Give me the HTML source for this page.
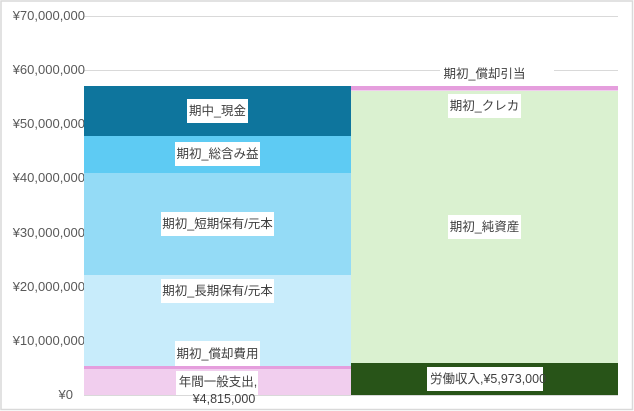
<!DOCTYPE html>
<html><head><meta charset="utf-8"><style>
html,body{margin:0;padding:0;background:#fff}
svg{display:block}
text{font-family:"Liberation Sans","Noto Sans CJK JP",sans-serif;font-size:12.5px;fill:#404040}
.ax{font-size:13px;fill:#595959;text-anchor:end}
.c{text-anchor:middle}
</style></head><body>
<svg width="634" height="411" viewBox="0 0 634 411" xmlns="http://www.w3.org/2000/svg">
<rect x="1" y="1" width="631.5" height="408.5" fill="#fff" stroke="#d9d9d9" stroke-width="1.5"/>
<g stroke="#d9d9d9" stroke-width="1">
<line x1="84" y1="16.5" x2="618" y2="16.5"/>
<line x1="84" y1="70.5" x2="618" y2="70.5"/>
<line x1="84" y1="124.5" x2="618" y2="124.5"/>
<line x1="84" y1="178.5" x2="618" y2="178.5"/>
<line x1="84" y1="233.5" x2="618" y2="233.5"/>
<line x1="84" y1="287.5" x2="618" y2="287.5"/>
<line x1="84" y1="341.5" x2="618" y2="341.5"/>
<line x1="84" y1="395.5" x2="618" y2="395.5"/>
</g>
<text class="ax" x="85" y="20">¥70,000,000</text>
<text class="ax" x="85" y="74">¥60,000,000</text>
<text class="ax" x="85" y="128">¥50,000,000</text>
<text class="ax" x="85" y="182">¥40,000,000</text>
<text class="ax" x="85" y="237">¥30,000,000</text>
<text class="ax" x="85" y="291">¥20,000,000</text>
<text class="ax" x="85" y="345">¥10,000,000</text>
<text class="ax" x="73" y="399">¥0</text>
<rect x="84" y="86" width="267" height="50" fill="#0e759d"/>
<rect x="84" y="136" width="267" height="37" fill="#5ecbf3"/>
<rect x="84" y="173" width="267" height="102" fill="#94dbf6"/>
<rect x="84" y="275" width="267" height="91" fill="#c8ecfb"/>
<rect x="84" y="366" width="267" height="3" fill="#e59edd"/>
<rect x="84" y="369" width="267" height="26" fill="#f1ceee"/>
<rect x="351" y="86" width="267" height="4" fill="#e59edd"/>
<rect x="351" y="90" width="267" height="1" fill="#f1ceee"/>
<rect x="351" y="91" width="267" height="272" fill="#daf1d0"/>
<rect x="351" y="363" width="267" height="32" fill="#285418"/>
<g fill="#fff">
<rect x="187" y="99" width="61" height="24"/>
<rect x="175" y="142" width="85" height="24"/>
<rect x="161" y="212" width="113" height="24"/>
<rect x="161" y="279" width="113" height="24"/>
<rect x="175" y="341" width="85" height="25"/>
<rect x="176" y="371" width="82" height="24"/>
<rect x="440" y="66" width="114" height="14"/>
<rect x="448" y="94" width="73" height="24"/>
<rect x="448" y="215" width="73" height="24"/>
<rect x="427" y="367" width="116" height="24"/>
</g>
<text class="c" x="217.5" y="115">期中_現金</text>
<text class="c" x="217.5" y="158">期初_総含み益</text>
<text class="c" x="217.5" y="228">期初_短期保有/元本</text>
<text class="c" x="217.5" y="295">期初_長期保有/元本</text>
<text class="c" x="217.5" y="358">期初_償却費用</text>
<text class="c" x="218" y="386">年間一般支出,</text>
<text class="c" x="224" y="403">¥4,815,000</text>
<text class="c" x="484.5" y="78">期初_償却引当</text>
<text class="c" x="484.5" y="110">期初_クレカ</text>
<text class="c" x="484.5" y="231">期初_純資産</text>
<text x="430" y="383">労働収入,¥5,973,000</text>
</svg>
</body></html>
